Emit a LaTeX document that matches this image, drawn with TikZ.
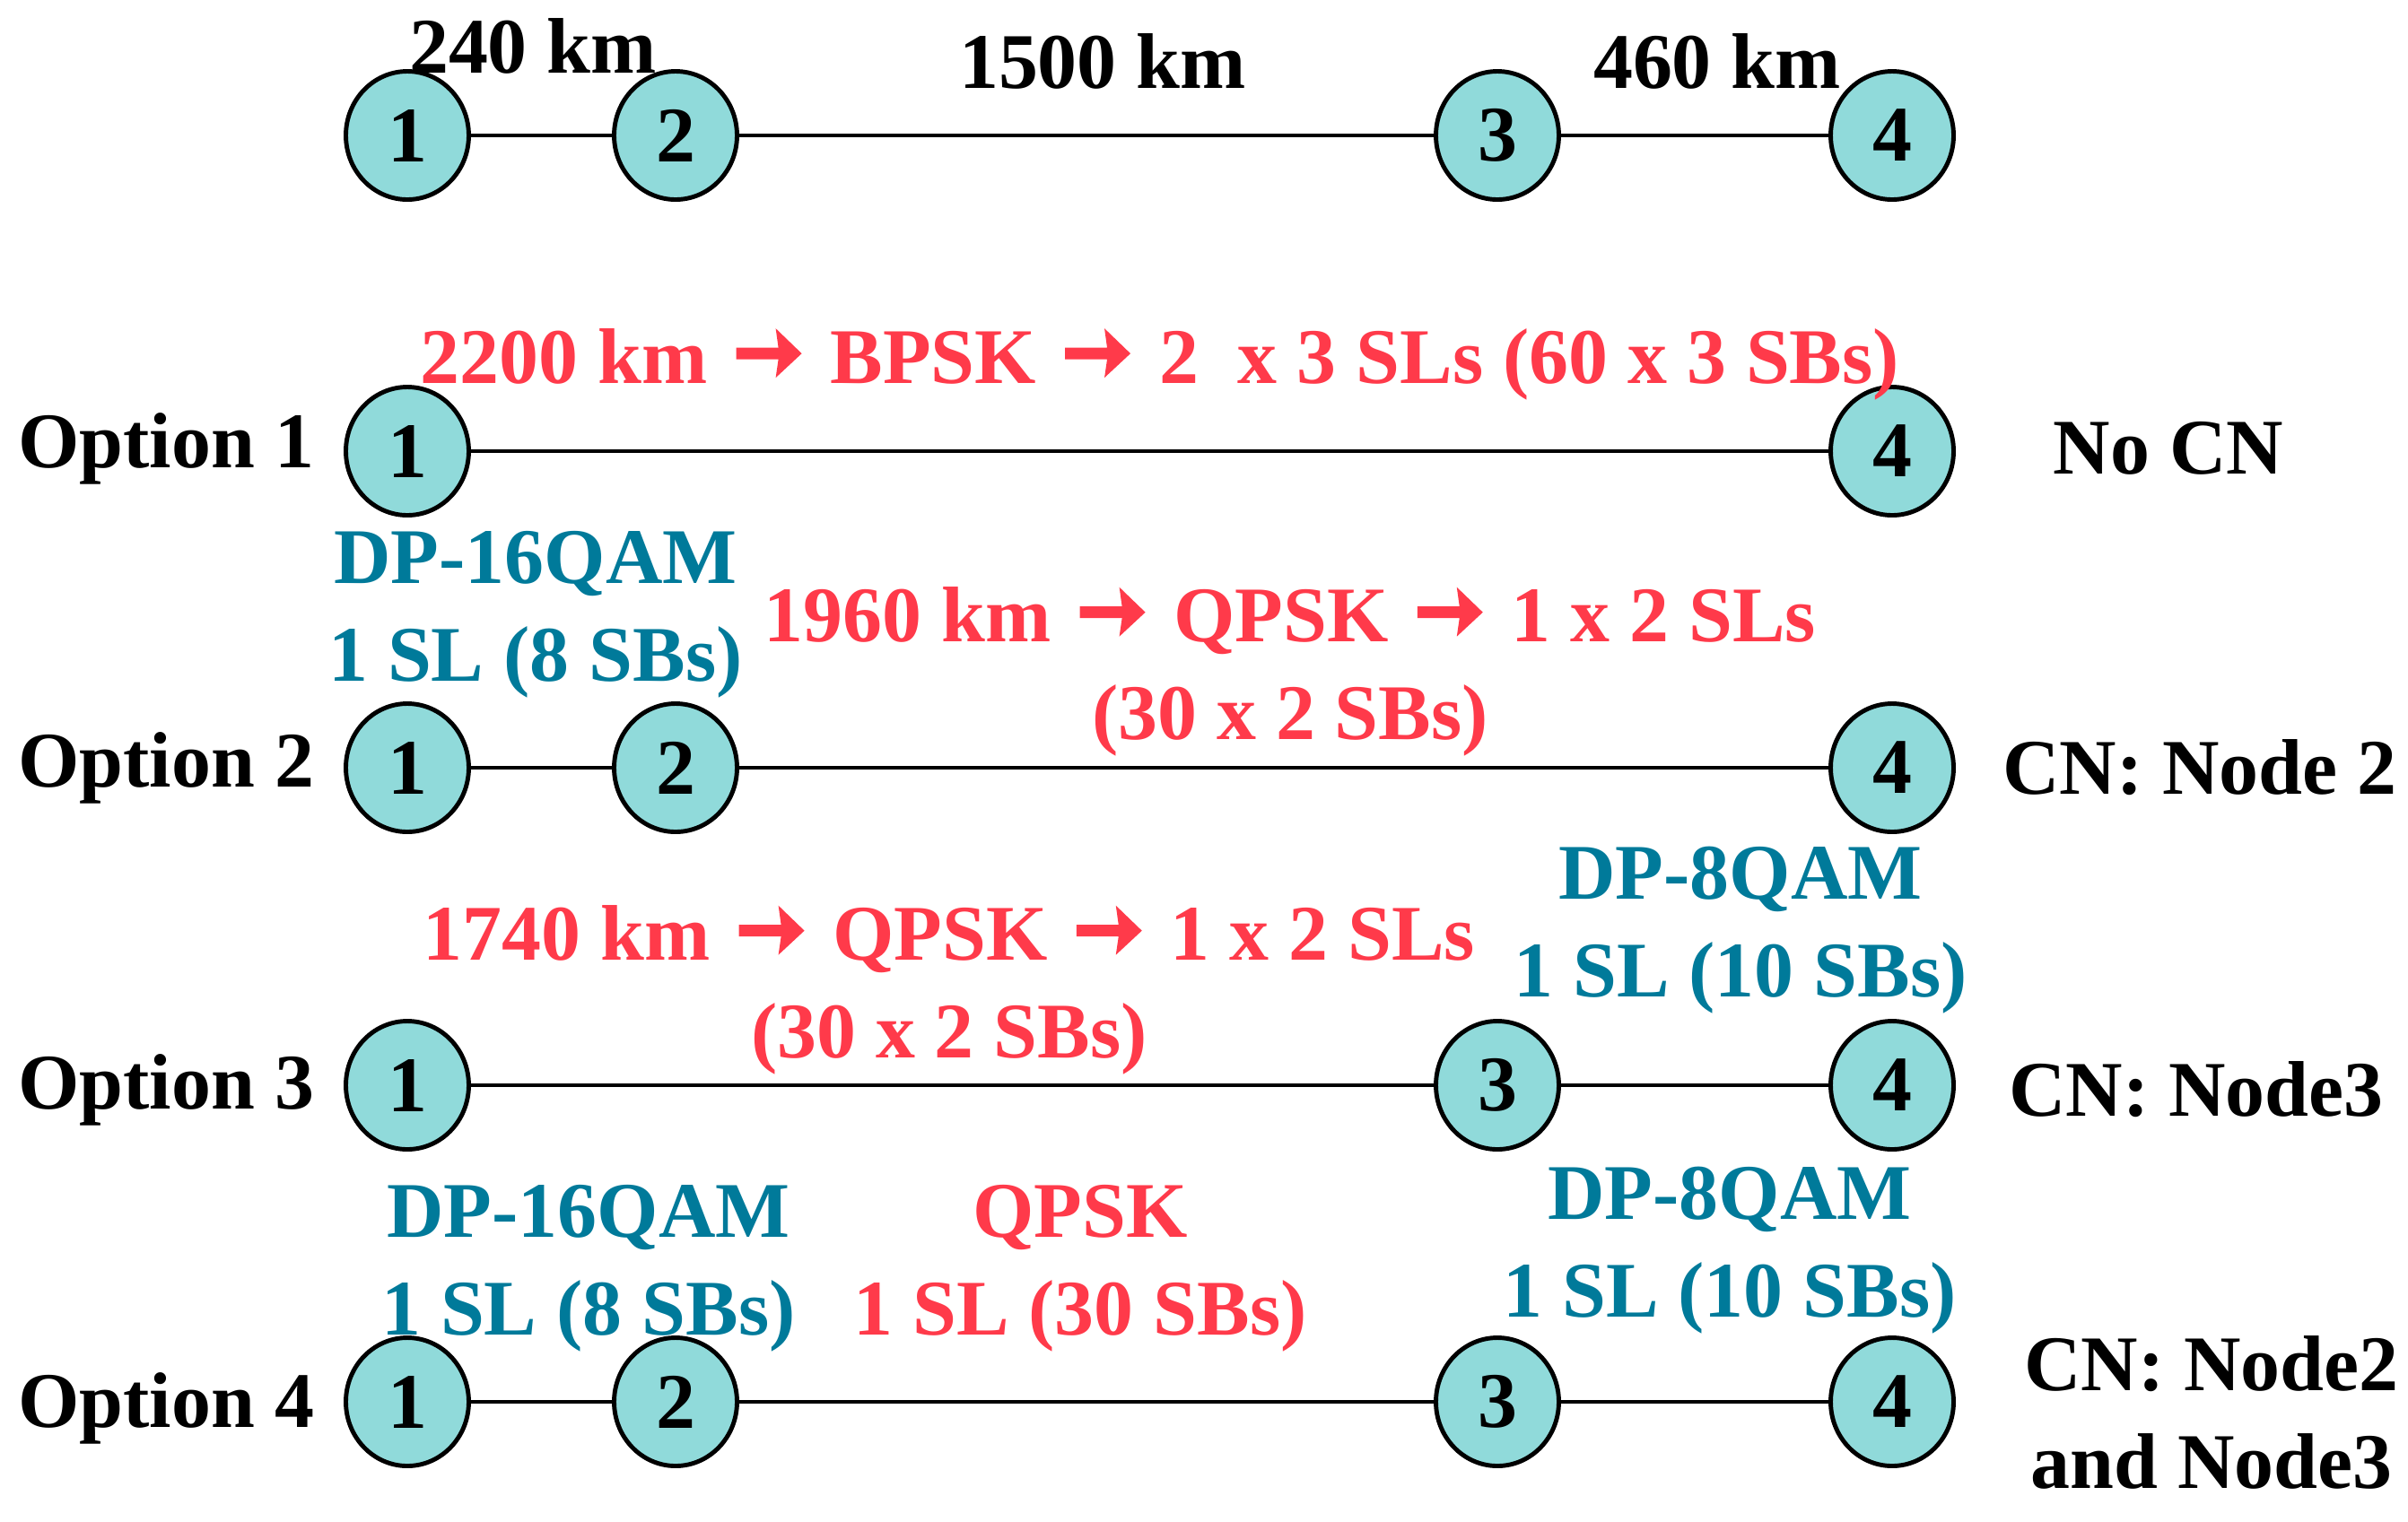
\documentclass[tikz,border=0pt]{standalone}
\usepackage{fontspec}
\setmainfont{Liberation Serif}
\usetikzlibrary{shapes.geometric}
\definecolor{nodefill}{HTML}{90DADA}
\definecolor{modred}{HTML}{FF3A4A}
\definecolor{modblue}{HTML}{007A9A}
% heavy arrow between the steps of a red label
\newcommand{\rarr}{\hspace{0.1cm}\tikz[baseline=0pt]\fill[modred] (0,0.265) -- (0.47,0.265) -- (0.44,0.06) -- (0.73,0.33) -- (0.44,0.61) -- (0.47,0.395) -- (0,0.395) -- cycle;\hspace{0.1cm}}

\begin{document}
\begin{tikzpicture}[
	every node/.style={font=\fontsize{25}{31}\selectfont\bfseries},
	netnode/.style={ellipse, draw, line width=1.4pt, fill=nodefill, minimum width=1.37cm, minimum height=1.43cm, inner sep=0pt},
	link/.style={line width=1.3pt},
	redtxt/.style={text=modred, align=center},
	bluetxt/.style={text=modblue, align=center}
]
	\useasboundingbox (0,0) rectangle (26.84,-16.96);
	%\draw[help lines] (0,0) grid (26,-16);
	% top: physical path
	\node[netnode] (t1) at (4.54,-1.51) {1};
	\node[netnode] (t2) at (7.53,-1.51) {2};
	\node[netnode] (t3) at (16.69,-1.51) {3};
	\node[netnode] (t4) at (21.09,-1.51) {4};
	\draw[link] (t1)--(t2) (t2)--(t3) (t3)--(t4);
	\node (d12) at (5.94,-0.51) {240 km};
	\node (d23) at (12.29,-0.68) {1500 km};
	\node (d34) at (19.14,-0.68) {460 km};

	% option 1
	\node[anchor=west] (o1) at (0.08,-5.00) {Option 1};
	\node[netnode] (a1) at (4.54,-5.03) {1};
	\node[netnode] (a4) at (21.09,-5.03) {4};
	\draw[link] (a1)--(a4);
	\node[redtxt] (r1) at (12.93,-4.06) {2200 km \rarr{} BPSK \rarr{} 2~ x 3 SLs (60 x 3 SBs)};
	\node (c1) at (24.17,-5.00) {No CN};

	% option 2
	\node[anchor=west] (o2) at (0.08,-8.56) {Option 2};
	\node[netnode] (b1) at (4.54,-8.56) {1};
	\node[netnode] (b2) at (7.53,-8.56) {2};
	\node[netnode] (b4) at (21.09,-8.56) {4};
	\draw[link] (b1)--(b2) (b2)--(b4);
	\node[bluetxt] (m2a) at (5.97,-6.85) {DP-16QAM\\1 SL (8 SBs)};
	\node[redtxt] (m2b) at (14.38,-7.49) {1960 km \rarr{} QPSK \rarr{} 1 x 2 SLs\\(30 x 2 SBs)};
	\node (c2) at (24.52,-8.56) {CN: Node 2};

	% option 3
	\node[anchor=west] (o3) at (0.08,-12.15) {Option 3};
	\node[netnode] (e1) at (4.54,-12.10) {1};
	\node[netnode] (e3) at (16.69,-12.10) {3};
	\node[netnode] (e4) at (21.09,-12.10) {4};
	\draw[link] (e1)--(e3) (e3)--(e4);
	\node[redtxt] (m3a) at (10.58,-11.04) {1740 km \rarr{} QPSK \rarr{} 1 x 2 SLs\\(30 x 2 SBs)};
	\node[bluetxt] (m3b) at (19.40,-10.37) {DP-8QAM\\1 SL (10 SBs)};
	\node (c3) at (24.48,-12.15) {CN: Node3};

	% option 4
	\node[anchor=west] (o4) at (0.08,-15.70) {Option 4};
	\node[netnode] (f1) at (4.54,-15.63) {1};
	\node[netnode] (f2) at (7.53,-15.63) {2};
	\node[netnode] (f3) at (16.69,-15.63) {3};
	\node[netnode] (f4) at (21.09,-15.63) {4};
	\draw[link] (f1)--(f2) (f2)--(f3) (f3)--(f4);
	\node[bluetxt] (m4a) at (6.56,-14.14) {DP-16QAM\\1 SL (8 SBs)};
	\node[redtxt] (m4b) at (12.04,-14.14) {QPSK\\1 SL (30 SBs)};
	\node[bluetxt] (m4c) at (19.28,-13.94) {DP-8QAM\\1 SL (10 SBs)};
	\node[align=center] (c4) at (24.65,-15.75) {CN: Node2\\and Node3};
\end{tikzpicture}
\end{document}
